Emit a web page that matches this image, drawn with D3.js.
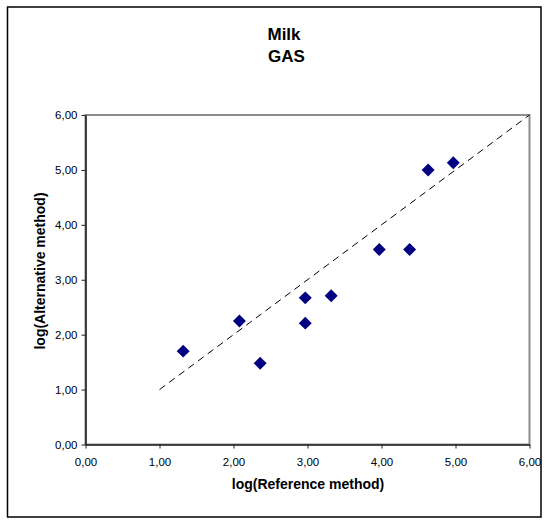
<!DOCTYPE html>
<html>
<head>
<meta charset="utf-8">
<script src="https://cdn.jsdelivr.net/npm/d3@7"></script>
<style>
  html, body { margin: 0; padding: 0; background: #fff; }
  svg { display: block; }
  text { font-family: "Liberation Sans", Arial, sans-serif; fill: #000; }
</style>
</head>
<body>
<svg id="chart" width="547" height="521"></svg>
<script>
// ---- data ----
const titleLines = ["Milk", "GAS"];
const xTitle = "log(Reference method)";
const yTitle = "log(Alternative method)";
const refValues = [1.32, 2.08, 2.36, 2.97, 2.97, 3.32, 3.97, 4.38, 4.63, 4.97];
const altValues = [1.70, 2.25, 1.48, 2.67, 2.21, 2.71, 3.55, 3.55, 5.00, 5.13];
const identityLine = [1, 6];
const tickValues = [0, 1, 2, 3, 4, 5, 6];
const fmt = v => d3.format(".2f")(v).replace(".", ",");

const svg = d3.select("#chart");
const plot = { left: 85.5, right: 529.5, top: 115, bottom: 444.5 };

const x = d3.scaleLinear().domain([0, 6]).range([plot.left, plot.right]);
const y = d3.scaleLinear().domain([0, 6]).range([plot.bottom, plot.top]);

// outer chart border
svg.append("rect")
  .attr("x", 7.5).attr("y", 7).attr("width", 533.5).attr("height", 510)
  .attr("fill", "#fff").attr("stroke", "#000").attr("stroke-width", 1.5);

// plot area border (gray)
svg.append("rect")
  .attr("x", plot.left).attr("y", plot.top)
  .attr("width", plot.right - plot.left).attr("height", plot.bottom - plot.top)
  .attr("fill", "none").attr("stroke", "#8c8c8c").attr("stroke-width", 2);

// axes
const xAxis = d3.axisBottom(x).tickValues(tickValues).tickFormat(fmt).tickSizeOuter(0).tickSizeInner(4).tickPadding(9);
const yAxis = d3.axisLeft(y).tickValues(tickValues).tickFormat(fmt).tickSizeOuter(0).tickSizeInner(4).tickPadding(4);

const gx = svg.append("g").attr("transform", `translate(0,${plot.bottom})`).call(xAxis);
const gy = svg.append("g").attr("transform", `translate(${plot.left},0)`).call(yAxis);
[gx, gy].forEach(g => {
  g.select(".domain").attr("stroke", "#222").attr("stroke-width", 1.6);
  g.selectAll(".tick line").attr("stroke", "#222").attr("stroke-width", 1);
  g.selectAll(".tick text").attr("font-size", 11.5).attr("fill", "#000")
    .style("font-family", "'Liberation Sans', Arial, sans-serif");
});

// identity dashed line
svg.append("line")
  .attr("x1", x(identityLine[0])).attr("y1", y(identityLine[0]))
  .attr("x2", x(identityLine[1])).attr("y2", y(identityLine[1]))
  .attr("stroke", "#000").attr("stroke-width", 1)
  .attr("stroke-dasharray", "7,5");

// points (diamonds)
const diamond = d3.symbol().type(d3.symbolSquare).size(84);
svg.append("g").selectAll("path")
  .data(refValues.map((v, i) => [v, altValues[i]]))
  .join("path")
  .attr("d", diamond)
  .attr("transform", d => `translate(${x(d[0])},${y(d[1])}) rotate(45)`)
  .attr("fill", "#000080");

// title
svg.append("text").attr("x", 284).attr("y", 40).attr("text-anchor", "middle")
  .attr("font-size", 17).attr("font-weight", "bold").text(titleLines[0]);
svg.append("text").attr("x", 286.5).attr("y", 61.5).attr("text-anchor", "middle")
  .attr("font-size", 17).attr("font-weight", "bold").text(titleLines[1]);

// axis titles
svg.append("text").attr("x", 308).attr("y", 489).attr("text-anchor", "middle")
  .attr("font-size", 14).attr("font-weight", "bold").text(xTitle);
svg.append("text").attr("transform", "translate(45,271) rotate(-90)")
  .attr("text-anchor", "middle")
  .attr("font-size", 14).attr("font-weight", "bold").text(yTitle);
</script>
</body>
</html>
